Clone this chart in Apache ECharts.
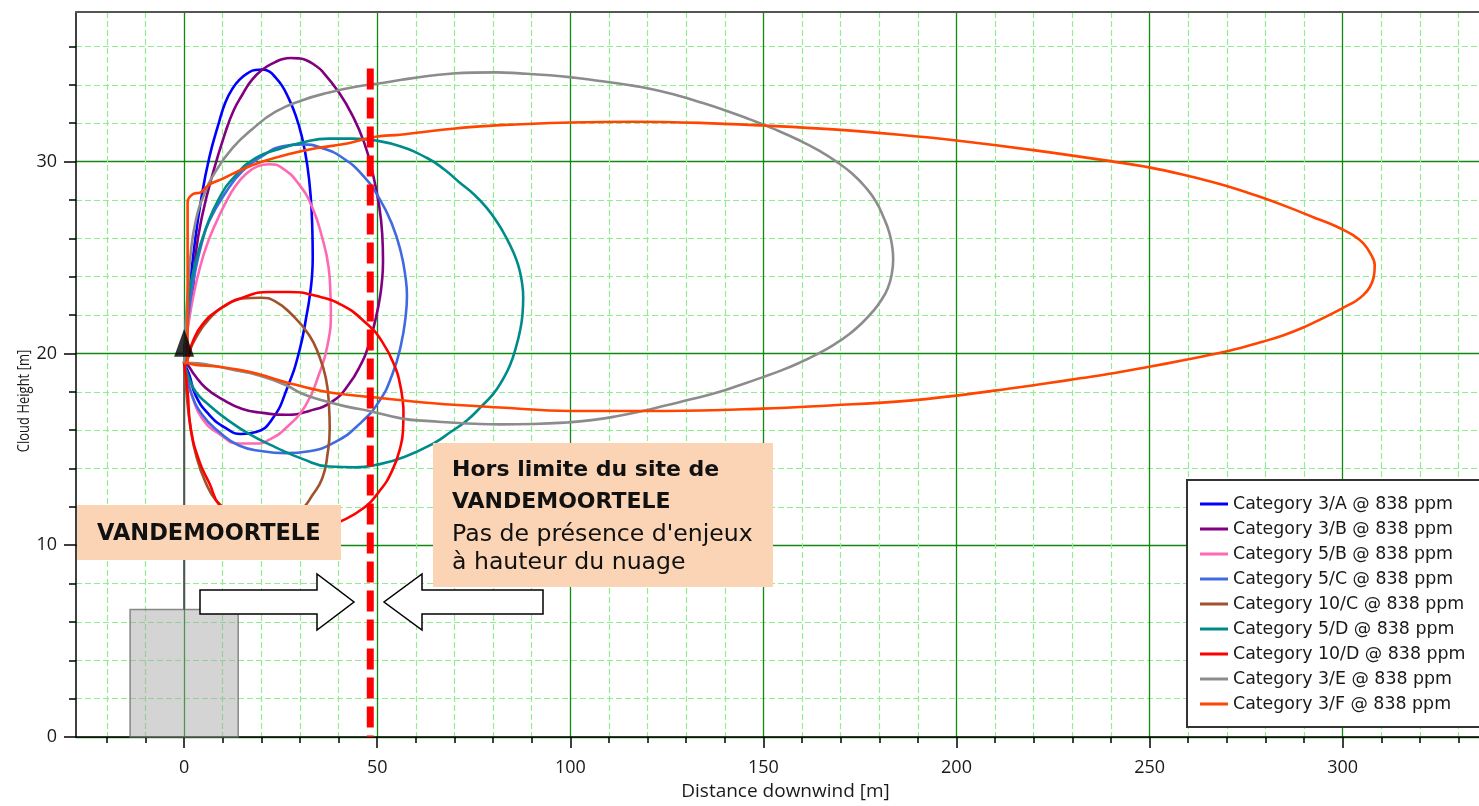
<!DOCTYPE html>
<html><head><meta charset="utf-8">
<script src="https://cdn.jsdelivr.net/npm/echarts@6/dist/echarts.min.js"></script>
<style>html,body{margin:0;padding:0;background:#fff}#c{width:1479px;height:806px}</style>
</head><body><div id="c"></div>
<script>
// ---------- data ----------
const seriesNames = ['Category 3/A @ 838 ppm','Category 3/B @ 838 ppm','Category 5/B @ 838 ppm','Category 5/C @ 838 ppm','Category 10/C @ 838 ppm','Category 5/D @ 838 ppm','Category 10/D @ 838 ppm','Category 3/E @ 838 ppm','Category 3/F @ 838 ppm'];
const seriesColors = ['#0000FF','#800080','#FF69B4','#4169E1','#A0522D','#008B8B','#FF0000','#8C8C8C','#FF4500'];

const cat3A = [[0,19.5],[0.5,20.8],[0.9,22.0],[1.3,23.1],[2.6,25.5],[4.3,27.9],[6.5,30.2],[9.1,32.1],[10.7,33.1],[12.5,33.8],[14.5,34.3],[16.4,34.6],[18.4,34.78],[20.3,34.8],[22.0,34.7],[23.6,34.4],[25.2,34.0],[26.6,33.5],[28.9,32.4],[30.6,31.2],[31.9,29.8],[32.8,28.1],[33.2,26.4],[33.3,25.0],[33.1,24.0],[32.6,23.1],[31.9,22.2],[29.8,20.1],[26.7,18.2],[22.9,16.6],[18.6,15.9],[14.7,15.8],[10.8,16.1],[6.5,16.8],[3.0,17.8],[1.3,18.9],[0,19.5]];
const cat3B = [[0,19.5],[0.5,20.6],[1.2,21.9],[2.2,23.1],[3.0,25.2],[4.7,27.2],[7.3,29.3],[10.8,31.6],[12.9,32.7],[15.1,33.5],[17.5,34.25],[20.3,34.8],[23.7,35.2],[25.6,35.35],[27.6,35.4],[29.6,35.38],[31.5,35.3],[33.7,35.05],[35.8,34.7],[40.1,33.6],[43.6,32.4],[46.6,31.0],[48.7,29.5],[50.5,27.7],[51.3,26.2],[51.5,24.8],[51.2,23.7],[50.6,22.8],[49.7,21.9],[48.6,21.0],[47.4,20.2],[46.2,19.6],[42.7,18.4],[38.4,17.5],[32.4,17.0],[26.3,16.8],[20.3,16.9],[15.1,17.1],[9.9,17.6],[5.6,18.2],[2.6,18.9],[0.9,19.4],[0,19.5]];
const cat5B = [[0,19.5],[0.6,20.8],[1.5,22.0],[2.6,23.2],[4.0,24.4],[5.8,25.6],[8.0,26.7],[10.6,27.8],[13.2,28.7],[16.0,29.35],[19.0,29.75],[22.0,29.86],[25.5,29.65],[29.8,28.8],[33.2,27.6],[35.8,26.0],[37.4,24.5],[37.9,23.0],[38.0,22.2],[37.1,20.4],[34.9,18.9],[31.5,17.3],[26.3,16.1],[22.0,15.5],[18.6,15.3],[14.2,15.3],[9.1,15.8],[4.7,16.6],[2.2,17.7],[0.9,18.7],[0,19.5]];
const cat5C = [[0,19.5],[0.6,21.0],[1.5,22.6],[2.8,24.2],[4.5,25.7],[6.5,26.9],[10.8,28.4],[15.1,29.5],[20.3,30.3],[25.5,30.8],[30.6,30.9],[35.8,30.7],[41.0,30.2],[46.2,29.3],[50.5,28.1],[53.9,26.7],[56.1,25.3],[57.3,24.0],[57.7,23.0],[57.4,22.0],[56.1,20.4],[53.9,18.9],[50.5,17.5],[45.3,16.3],[39.3,15.4],[32.4,14.9],[26.3,14.8],[20.3,14.9],[14.2,15.2],[9.1,15.9],[4.7,16.8],[1.7,18.0],[0.6,19.0],[0,19.5]];
const cat10C = [[0,19.5],[0.9,19.9],[3.0,20.8],[6.5,21.8],[10.8,22.5],[15.1,22.86],[19.8,22.9],[23.7,22.7],[28.0,22.0],[32.4,20.95],[34.9,19.9],[36.7,18.7],[37.5,17.3],[37.7,16.1],[37.1,14.7],[35.8,13.5],[33.2,12.6],[30.6,11.9],[27.0,11.4],[22.0,11.1],[17.0,11.3],[12.0,11.8],[8.4,12.3],[5.5,13.3],[3.2,14.6],[1.6,16.2],[0.6,18.0],[0,19.5]];
const cat5D = [[0,19.5],[0.5,21.0],[1.3,23.07],[3.0,24.8],[5.6,26.5],[9.1,28.1],[13.4,29.3],[18.6,30.2],[23.7,30.6],[30.6,31.0],[37.5,31.2],[43.6,31.2],[49.6,31.1],[55.9,30.8],[62.8,30.2],[67.3,29.6],[71.4,28.9],[75.0,28.3],[78.3,27.6],[81.2,26.8],[83.5,26.0],[85.2,25.3],[86.5,24.6],[87.4,23.8],[87.8,22.9],[87.6,22.0],[87.0,21.2],[85.9,20.3],[84.4,19.4],[82.4,18.6],[80.1,17.9],[76.8,17.2],[73.2,16.5],[69.0,15.9],[64.5,15.3],[57.0,14.6],[50.0,14.2],[44.4,14.06],[37.5,14.1],[30.6,14.5],[23.7,15.1],[16.8,15.8],[10.8,16.6],[6.5,17.3],[3.0,18.0],[0.9,18.9],[0,19.5]];
const cat10D = [[0,19.5],[0.9,19.7],[2.2,20.6],[4.7,21.5],[9.1,22.3],[15.1,22.9],[22.0,23.2],[27.2,23.2],[34.1,23.0],[41.0,22.5],[47.0,21.6],[51.3,20.6],[54.8,19.2],[55.9,18.4],[56.5,17.7],[56.8,16.9],[56.7,16.1],[56.1,15.2],[53.9,13.9],[50.5,12.8],[46.2,11.9],[40.1,11.2],[34.0,10.7],[27.0,10.5],[20.0,10.7],[14.0,11.3],[9.1,12.1],[6.6,13.2],[3.9,14.4],[1.7,16.1],[0.9,18.0],[0,19.5]];
const cat3E = [[0,19.5],[0.3,21.0],[0.6,22.2],[0.9,23.07],[1.7,25.2],[3.0,26.9],[5.2,28.3],[8.2,29.5],[12.5,30.7],[17.7,31.7],[23.7,32.6],[30.6,33.2],[37.5,33.6],[44.4,33.9],[51.3,34.1],[55.9,34.25],[62.6,34.45],[68.9,34.58],[75.0,34.64],[80.9,34.65],[87.0,34.6],[94.7,34.5],[101.2,34.37],[107.7,34.2],[114.2,34.02],[120.6,33.8],[127.1,33.48],[133.6,33.1],[140.0,32.68],[146.5,32.2],[153.0,31.68],[159.4,31.1],[164.3,30.58],[168.9,30.0],[173.1,29.35],[176.7,28.6],[179.2,27.9],[181.1,27.1],[182.6,26.3],[183.4,25.5],[183.6,24.9],[183.2,24.1],[182.2,23.4],[180.6,22.8],[178.4,22.2],[175.6,21.6],[172.2,21.0],[168.2,20.45],[163.8,19.95],[159.2,19.5],[154.5,19.1],[149.7,18.75],[144.4,18.38],[138.7,18.0],[131.8,17.63],[124.9,17.3],[118.4,16.98],[112.0,16.72],[105.5,16.52],[99.1,16.4],[90.4,16.32],[81.8,16.3],[75.3,16.33],[68.9,16.4],[62.6,16.48],[56.5,16.6],[47.9,17.0],[42.7,17.2],[36.7,17.5],[30.6,17.9],[26.3,18.35],[19.4,18.85],[12.5,19.15],[6.5,19.4],[2.2,19.5],[0,19.5]];
const cat3F = [[0,19.5],[0.9,19.6],[0.9,23.0],[0.9,27.9],[2.2,28.3],[4.3,28.4],[6.5,28.8],[9.9,29.1],[15.1,29.6],[20.3,30.0],[27.2,30.4],[34.1,30.7],[41.0,30.9],[49.6,31.3],[55.9,31.4],[68.9,31.7],[81.8,31.9],[100,32.04],[116.3,32.08],[133.6,32.02],[150,31.88],[168.1,31.68],[185.3,31.4],[200,31.1],[219.9,30.6],[240.6,30.0],[249.9,29.7],[258.5,29.33],[266.5,28.92],[273.3,28.52],[279.5,28.1],[286.2,27.6],[292.4,27.1],[296.3,26.8],[299.6,26.5],[302.8,26.15],[305.3,25.75],[307.2,25.2],[308.3,24.6],[308.0,23.95],[307.0,23.45],[305.4,23.05],[303.3,22.72],[300.8,22.45],[297.5,22.1],[294.0,21.75],[289.8,21.35],[284.7,20.95],[279.5,20.62],[273.5,20.28],[267.4,20.0],[258.7,19.64],[249.9,19.3],[241.0,18.98],[232.0,18.7],[223.4,18.44],[214.8,18.2],[200,17.8],[185.3,17.5],[168.1,17.3],[149.7,17.12],[124.9,17.0],[100,17.0],[81.8,17.18],[64.5,17.4],[49.6,17.7],[36.7,18.0],[26.3,18.5],[17.7,19.0],[9.1,19.3],[3.0,19.4],[0.9,19.5]];
const seriesData = [cat3A, cat3B, cat5B, cat5C, cat10C, cat5D, cat10D, cat3E, cat3F];

const xTickValues = [0, 50, 100, 150, 200, 250, 300];
const yTickValues = [0, 10, 20, 30];
const siteLimit = [[48.2, 34.86], [48.2, 0]];
const stackLine = [[0, 6.65], [0, 20.5]];
const releasePoint = [[0, 20.55]];
const building = [[-14, 0], [14, 6.65]];

// ---------- chart ----------
const chart = echarts.init(document.getElementById('c'));
const axisFont = 'Open Sans';
const txtFont = 'DejaVu Sans';
const X_MIN = -28, X_MAX = 335.3, Y_MIN = 0, Y_MAX = 37.8;

const curveSeries = seriesNames.map((n, i) => ({
  name: n, type: 'line', data: seriesData[i], smooth: i === 8 ? 0.4 : 0.5, showSymbol: false, symbol: 'none',
  lineStyle: { color: seriesColors[i], width: 2.6 }, itemStyle: { color: seriesColors[i] },
  z: 3, silent: true
}));

function txt(x, y, text, font, extra) {
  return Object.assign({ type: 'text', x: x, y: y, z: 101,
    style: { text: text, font: font, fill: '#111', align: 'left', verticalAlign: 'middle', textAlign: 'left', textVerticalAlign: 'middle' } }, extra || {});
}

const option = {
  animation: false,
  grid: { left: 76, right: 0, top: 12, bottom: 66, show: false },
  xAxis: [{
    type: 'value', min: X_MIN, max: X_MAX, splitNumber: 7,
    name: 'Distance downwind [m]', nameLocation: 'middle', nameGap: 45,
    nameTextStyle: { fontFamily: axisFont, fontSize: 19, color: '#1a1a1a', padding: [0, 0, 0, 16] },
    axisLine: { onZero: false, lineStyle: { color: '#000', width: 1.5 } },
    axisTick: { customValues: xTickValues, length: 11, lineStyle: { color: '#000', width: 1.5 } },
    minorTick: { show: true, splitNumber: 5, length: 6, lineStyle: { color: '#000', width: 1.5 } },
    axisLabel: { customValues: xTickValues, margin: 22, fontFamily: axisFont, fontSize: 18, color: '#1a1a1a' },
    splitLine: { show: true, lineStyle: { color: '#118811', width: 1.3 } },
    minorSplitLine: { show: true, lineStyle: { color: '#90EE90', width: 1.2, type: [6, 3] } }
  }, {
    type: 'value', position: 'top', min: X_MIN, max: X_MAX,
    axisLine: { show: true, onZero: false, lineStyle: { color: '#555', width: 2 } },
    axisTick: { show: false }, axisLabel: { show: false }, splitLine: { show: false }
  }],
  yAxis: {
    type: 'value', min: Y_MIN, max: Y_MAX, splitNumber: 4,
    axisLine: { onZero: false, lineStyle: { color: '#000', width: 1.5 } },
    axisTick: { customValues: yTickValues, length: 12, lineStyle: { color: '#000', width: 1.5 } },
    minorTick: { show: true, splitNumber: 5, length: 7, lineStyle: { color: '#000', width: 1.5 } },
    axisLabel: { customValues: yTickValues, margin: 19, fontFamily: axisFont, fontSize: 18, color: '#1a1a1a' },
    splitLine: { show: true, lineStyle: { color: '#118811', width: 1.3 } },
    minorSplitLine: { show: true, lineStyle: { color: '#90EE90', width: 1.2, type: [6, 3] } }
  },
  legend: {
    data: seriesNames, orient: 'vertical', left: 1188, top: 481, itemWidth: 28, itemHeight: 3, itemGap: 5,
    icon: 'rect', padding: [13, 10, 13, 12], backgroundColor: 'transparent', borderWidth: 0,
    textStyle: { fontFamily: txtFont, fontSize: 17.4, color: '#1a1a1a', lineHeight: 20 }, selectedMode: false, z: 10
  },
  series: [
    {
      name: 'stack', type: 'line', data: stackLine, showSymbol: false, symbol: 'none',
      lineStyle: { color: '#555', width: 2 }, z: 2, silent: true,
      markArea: {
        silent: true,
        itemStyle: { color: 'rgba(160,160,160,0.45)', borderColor: 'rgba(110,110,110,0.8)', borderWidth: 1.5 },
        data: [[{ coord: building[0] }, { coord: building[1] }]]
      }
    },
    ...curveSeries,
    {
      name: 'limit', type: 'line', data: siteLimit, showSymbol: false, symbol: 'none',
      lineStyle: { color: '#FF0000', width: 7, type: [21, 8], cap: 'butt' }, z: 5, silent: true
    },
    {
      name: 'release', type: 'scatter', data: releasePoint, symbol: 'triangle', symbolSize: [20, 28],
      itemStyle: { color: '#000' }, z: 6, silent: true
    }
  ],
  graphic: [
    { type: 'text', x: 25, y: 401, rotation: Math.PI / 2, scaleY: 1.2, z: 50,
      style: { text: 'Cloud Height [m]', font: '13px "Open Sans"', fill: '#1a1a1a', align: 'center', verticalAlign: 'middle', textAlign: 'center', textVerticalAlign: 'middle' } },
    { type: 'rect', z: 9, shape: { x: 1187, y: 480, width: 310, height: 247 }, style: { fill: '#fff', stroke: '#333', lineWidth: 2 } },
    { type: 'rect', shape: { x: 77, y: 505, width: 264, height: 55 }, style: { fill: '#FAD4B4' }, z: 100 },
    txt(97, 534, 'VANDEMOORTELE', 'bold 22.5px "DejaVu Sans"'),
    { type: 'rect', shape: { x: 433, y: 443, width: 340, height: 144 }, style: { fill: '#FAD4B4' }, z: 100 },
    txt(452, 470, 'Hors limite du site de', 'bold 22px "DejaVu Sans"'),
    txt(452, 502, 'VANDEMOORTELE', 'bold 22px "DejaVu Sans"'),
    txt(452, 535, "Pas de présence d'enjeux", '23.6px "DejaVu Sans"'),
    txt(452, 563, 'à hauteur du nuage', '23.6px "DejaVu Sans"'),
    { type: 'polygon', z: 100, shape: { points: [[200, 590], [317, 590], [317, 574], [354, 602], [317, 630], [317, 614], [200, 614]] },
      style: { fill: '#fff', stroke: '#000', lineWidth: 1.5 } },
    { type: 'polygon', z: 100, shape: { points: [[543, 590], [422, 590], [422, 574], [384, 602], [422, 630], [422, 614], [543, 614]] },
      style: { fill: '#fff', stroke: '#000', lineWidth: 1.5 } }
  ]
};
chart.setOption(option);
</script>
</body></html>
